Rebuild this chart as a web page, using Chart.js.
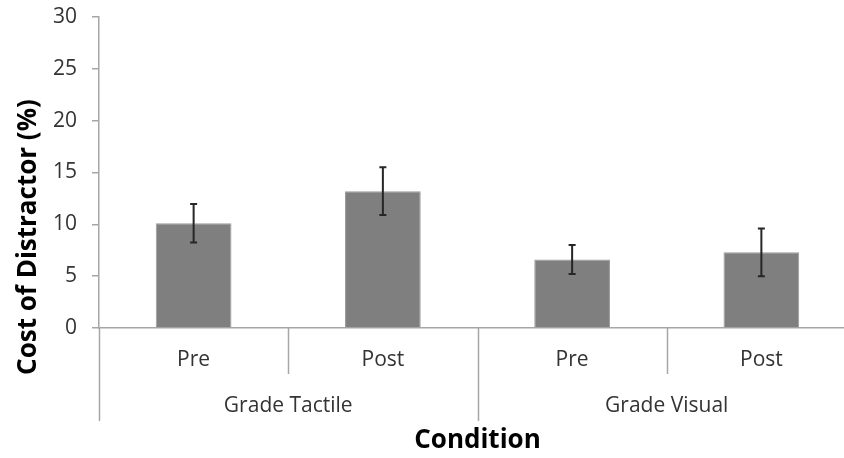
<!DOCTYPE html>
<html>
<head>
<meta charset="utf-8">
<script src="https://cdn.jsdelivr.net/npm/chart.js@4"></script>
<style>
  html, body { margin: 0; padding: 0; background: #fff; overflow: hidden; }
  #wrap { width: 844px; height: 458px; overflow: hidden; }
</style>
</head>
<body>
<div id="wrap"><canvas id="chart" width="856" height="458"></canvas></div>
<script>
// data
const conditions = ["Pre", "Post", "Pre", "Post"];
const groups = ["Grade Tactile", "Grade Visual"];
const cost = [10.1, 13.2, 6.6, 7.3];
const costErr = [1.85, 2.3, 1.4, 2.3];
const yTicks = [0, 5, 10, 15, 20, 25, 30];

const axisGrey = "#a6a6a6";
const tickFont = { family: "Open Sans", size: 21 };

// error bars, group labels, divider lines and the y title
const extras = {
  id: "extras",
  afterDatasetsDraw(chart) {
    const ctx = chart.ctx;
    const y = chart.scales.y;
    const meta = chart.getDatasetMeta(0);
    ctx.save();
    ctx.strokeStyle = "#262626";
    ctx.lineWidth = 2;
    meta.data.forEach((bar, i) => {
      const cx = bar.x;
      const hi = y.getPixelForValue(cost[i] + costErr[i]);
      const lo = y.getPixelForValue(cost[i] - costErr[i]);
      ctx.beginPath();
      ctx.moveTo(cx, hi); ctx.lineTo(cx, lo);
      ctx.moveTo(cx - 3.5, hi); ctx.lineTo(cx + 3.5, hi);
      ctx.moveTo(cx - 3.5, lo); ctx.lineTo(cx + 3.5, lo);
      ctx.stroke();
    });
    ctx.restore();
  },
  afterDraw(chart) {
    const ctx = chart.ctx;
    const area = chart.chartArea;
    const step = (area.right - area.left) / conditions.length;
    ctx.save();
    ctx.strokeStyle = axisGrey;
    ctx.lineWidth = 1.5;
    // short dividers between Pre and Post, long ones between groups
    for (let i = 0; i <= conditions.length; i++) {
      const px = Math.round(area.left + i * step) + 0.5;
      const end = (i % 2 === 0) ? area.bottom + 93 : area.bottom + 46;
      ctx.beginPath();
      ctx.moveTo(px, area.bottom);
      ctx.lineTo(px, end);
      ctx.stroke();
    }
    ctx.fillStyle = "#333";
    ctx.font = "21px 'Open Sans'";
    ctx.textAlign = "center";
    ctx.textBaseline = "middle";
    groups.forEach((g, i) => {
      const cx = area.left + (2 * i + 1) * step;
      ctx.fillText(g, cx, area.bottom + 78);
    });
    // y title
    ctx.fillStyle = "#000";
    ctx.font = "bold 26px 'Open Sans'";
    ctx.translate(29, 237);
    ctx.rotate(-Math.PI / 2);
    ctx.fillText("Cost of Distractor (%)", 0, 0);
    ctx.restore();
  }
};

new Chart(document.getElementById("chart"), {
  type: "bar",
  data: {
    labels: conditions,
    datasets: [{
      data: cost,
      backgroundColor: "#7f7f7f",
      borderColor: "#9a9a9a",
      borderWidth: 1,
      categoryPercentage: 1,
      barPercentage: 0.40
    }]
  },
  options: {
    responsive: false,
    animation: false,
    layout: { padding: { top: 17, right: 0, left: 0, bottom: 0 } },
    plugins: { legend: { display: false }, tooltip: { enabled: false } },
    scales: {
      x: {
        grid: { display: true, drawOnChartArea: false, drawTicks: false },
        border: { color: axisGrey, width: 1.5 },
        ticks: { font: tickFont, color: "#333", padding: 19, autoSkip: false, maxRotation: 0 },
        title: {
          display: true, text: "Condition", color: "#000",
          font: { family: "Open Sans", size: 26, weight: "bold" },
          padding: { top: 0, bottom: 2 }
        },
        afterFit(scale) { scale.height = 130; }
      },
      y: {
        min: 0, max: 30,
        afterBuildTicks(scale) { scale.ticks = yTicks.map(v => ({ value: v })); },
        grid: { drawOnChartArea: false, drawTicks: true, tickLength: 7, color: axisGrey, lineWidth: 1.5 },
        border: { color: axisGrey, width: 1.5 },
        ticks: { font: tickFont, color: "#333", padding: 15 },
        afterFit(scale) { scale.width = 99; scale.paddingTop = 0; scale.paddingBottom = 0; }
      }
    }
  },
  plugins: [extras]
});
</script>
</body>
</html>
